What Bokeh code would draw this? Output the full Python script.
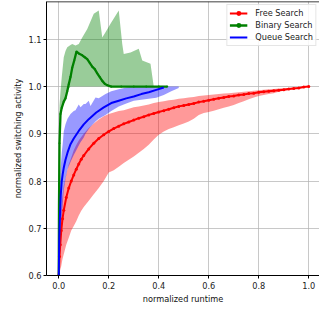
from bokeh.plotting import figure
from bokeh.models import Range1d, FixedTicker, PrintfTickFormatter, Legend, LegendItem, Span
from bokeh.embed import file_html
from bokeh.resources import INLINE

# ---- data ----
x_ticks = [0.0, 0.2, 0.4, 0.6, 0.8, 1.0]
y_ticks = [0.6, 0.7, 0.8, 0.9, 1.0, 1.1]

# Free Search
red_x = [0.0, 0.003, 0.006, 0.01, 0.015, 0.02, 0.03, 0.04, 0.05, 0.06, 0.07, 0.08, 0.09, 0.10,
         0.12, 0.14, 0.16, 0.18, 0.20, 0.22, 0.24, 0.26, 0.28, 0.30, 0.32, 0.34, 0.36, 0.38,
         0.40, 0.42, 0.44, 0.46, 0.48, 0.50, 0.52, 0.54, 0.56, 0.58, 0.60, 0.62, 0.64, 0.66,
         0.68, 0.70, 0.72, 0.74, 0.76, 0.78, 0.80, 0.82, 0.84, 0.86, 0.88, 0.90, 0.92, 0.94,
         0.96, 0.98, 1.00]
red_mean = [0.600, 0.640, 0.665, 0.695, 0.720, 0.738, 0.765, 0.785, 0.800, 0.813, 0.825, 0.836,
            0.846, 0.854, 0.868, 0.880, 0.890, 0.898, 0.905, 0.911, 0.916, 0.921, 0.925, 0.929,
            0.933, 0.936, 0.940, 0.943, 0.946, 0.949, 0.952, 0.955, 0.958, 0.960, 0.962, 0.964,
            0.967, 0.969, 0.971, 0.973, 0.975, 0.977, 0.979, 0.980, 0.982, 0.983, 0.985, 0.986,
            0.988, 0.989, 0.990, 0.991, 0.992, 0.993, 0.995, 0.996, 0.997, 0.999, 1.000]
red_lo = [0.600, 0.605, 0.612, 0.620, 0.635, 0.645, 0.665, 0.680, 0.695, 0.705, 0.715, 0.727,
          0.737, 0.745, 0.758, 0.772, 0.785, 0.800, 0.818, 0.823, 0.830, 0.838, 0.845, 0.852,
          0.860, 0.868, 0.877, 0.888, 0.898, 0.905, 0.910, 0.914, 0.918, 0.922, 0.926, 0.932,
          0.940, 0.944, 0.946, 0.949, 0.952, 0.955, 0.958, 0.961, 0.965, 0.969, 0.973, 0.977,
          0.980, 0.982, 0.984, 0.986, 0.989, 0.991, 0.993, 0.995, 0.997, 0.999, 1.000]
red_hi = [0.600, 0.680, 0.710, 0.740, 0.770, 0.790, 0.815, 0.835, 0.850, 0.865, 0.876, 0.886,
          0.893, 0.900, 0.912, 0.922, 0.930, 0.937, 0.942, 0.945, 0.948, 0.950, 0.953, 0.956,
          0.958, 0.960, 0.962, 0.965, 0.967, 0.969, 0.971, 0.972, 0.974, 0.975, 0.977, 0.978,
          0.980, 0.981, 0.982, 0.983, 0.984, 0.985, 0.986, 0.987, 0.988, 0.989, 0.990, 0.991,
          0.992, 0.993, 0.994, 0.995, 0.996, 0.997, 0.997, 0.998, 0.999, 0.999, 1.000]

# Queue Search
blue_x = [0.0, 0.002, 0.005, 0.008, 0.012, 0.016, 0.02, 0.027, 0.035, 0.047, 0.06, 0.08, 0.10,
          0.12, 0.15, 0.18, 0.21, 0.24, 0.27, 0.30, 0.33, 0.36, 0.39, 0.42]
blue_mean = [0.600, 0.680, 0.730, 0.770, 0.800, 0.815, 0.828, 0.845, 0.860, 0.878, 0.890, 0.906,
             0.920, 0.931, 0.945, 0.956, 0.965, 0.970, 0.975, 0.979, 0.984, 0.988, 0.993, 0.998]
blue_band_x = [0.0, 0.002, 0.005, 0.008, 0.012, 0.016, 0.02, 0.027, 0.035, 0.047, 0.06, 0.067,
               0.08, 0.087, 0.10, 0.107, 0.12, 0.127, 0.147, 0.16, 0.187, 0.21, 0.24, 0.27,
               0.30, 0.33, 0.36, 0.39, 0.42, 0.45, 0.48]
blue_lo = [0.600, 0.620, 0.650, 0.680, 0.720, 0.750, 0.780, 0.805, 0.825, 0.840, 0.855, 0.862,
           0.875, 0.882, 0.892, 0.900, 0.910, 0.915, 0.926, 0.932, 0.940, 0.948, 0.958, 0.964,
           0.970, 0.972, 0.974, 0.976, 0.982, 0.990, 0.997]
blue_hi = [0.600, 0.750, 0.800, 0.830, 0.860, 0.880, 0.905, 0.920, 0.932, 0.942, 0.948, 0.950,
           0.962, 0.956, 0.963, 0.963, 0.970, 0.959, 0.977, 0.975, 0.984, 0.990, 0.994, 0.998,
           1.000, 1.000, 1.000, 1.000, 1.000, 1.000, 1.000]

# Binary Search
green_x = [0.0, 0.001, 0.003, 0.007, 0.012, 0.02, 0.027, 0.034, 0.04, 0.047, 0.054, 0.062,
           0.071, 0.08, 0.094, 0.104, 0.114, 0.124, 0.134, 0.144, 0.154, 0.164, 0.174, 0.184,
           0.193, 0.21, 0.25, 0.30, 0.35, 0.40, 0.434]
green_mean = [0.600, 0.750, 0.880, 0.942, 0.955, 0.968, 0.975, 0.990, 1.005, 1.020, 1.040, 1.055,
              1.074, 1.070, 1.066, 1.062, 1.058, 1.050, 1.042, 1.037, 1.028, 1.020, 1.012, 1.006,
              1.003, 1.000, 1.000, 1.000, 1.000, 1.000, 1.000]
green_band_x = [0.0, 0.001, 0.003, 0.007, 0.012, 0.02, 0.027, 0.034, 0.047, 0.054, 0.067, 0.08,
                0.094, 0.114, 0.14, 0.16, 0.174, 0.187, 0.207, 0.24, 0.254, 0.26, 0.287, 0.32,
                0.334, 0.367, 0.38, 0.434]
green_hi = [0.600, 0.900, 0.960, 0.990, 1.020, 1.062, 1.075, 1.083, 1.088, 1.090, 1.087, 1.090,
            1.104, 1.122, 1.154, 1.161, 1.104, 1.115, 1.133, 1.161, 1.090, 1.069, 1.072, 1.080,
            1.055, 1.048, 1.000, 1.000]
green_lo = [0.600, 0.700, 0.850, 0.930, 0.950, 0.965, 0.975, 0.990, 1.000, 1.000, 1.000, 1.000,
            1.000, 1.000, 1.000, 1.000, 1.000, 1.000, 1.000, 1.000, 1.000, 1.000, 1.000, 1.000,
            1.000, 1.000, 1.000, 1.000]

FONT = "DejaVu Sans"
FS = "8.2px"
Y_TOP = 1.18

p = figure(width=319, height=309, output_backend="svg", toolbar_location=None,
           x_range=Range1d(-0.049, 1.043), y_range=Range1d(0.6, Y_TOP),
           min_border_left=46, min_border_right=0, min_border_top=1, min_border_bottom=34)

p.background_fill_color = "white"
p.border_fill_color = "white"
p.outline_line_color = None

# bands
p.varea(x=red_x, y1=red_lo, y2=red_hi, fill_color="red", fill_alpha=0.4)
p.varea(x=green_band_x, y1=green_lo, y2=green_hi, fill_color="green", fill_alpha=0.4)
p.varea(x=blue_band_x, y1=blue_lo, y2=blue_hi, fill_color="blue", fill_alpha=0.4)

# lines
r_line = p.line(red_x, red_mean, line_color="red", line_width=2)
r_dots = p.scatter(red_x, red_mean, size=3, fill_color="red", line_width=0)
g_line = p.line(green_x, green_mean, line_color="green", line_width=2.3)
g_dots = p.scatter(green_x, green_mean, size=2, fill_color="green", line_width=0)
b_line = p.line(blue_x, blue_mean, line_color="blue", line_width=2)

# top spine
p.add_layout(Span(location=Y_TOP, dimension="width", line_color="black", line_width=1.5))

legend = Legend(items=[
    LegendItem(label="Free Search", renderers=[r_line, r_dots]),
    LegendItem(label="Binary Search", renderers=[g_line, g_dots]),
    LegendItem(label="Queue Search", renderers=[b_line]),
], location="top_right")
legend.label_text_font = FONT
legend.label_text_font_size = FS
legend.label_text_color = "#222222"
legend.glyph_width = 18
legend.glyph_height = 12
legend.label_height = 12
legend.label_standoff = 8
legend.spacing = 0
legend.padding = 2
legend.margin = 3
legend.border_line_color = "#cccccc"
legend.border_line_width = 1
legend.background_fill_alpha = 0.85
p.add_layout(legend)

for ax in (p.xaxis[0], p.yaxis[0]):
    ax.major_label_text_font = FONT
    ax.major_label_text_font_size = FS
    ax.major_label_text_color = "#222222"
    ax.axis_label_text_font = FONT
    ax.axis_label_text_font_size = FS
    ax.axis_label_text_font_style = "normal"
    ax.axis_label_text_color = "#111111"
    ax.major_tick_out = 3
    ax.major_tick_in = 0
    ax.minor_tick_out = 0
    ax.minor_tick_in = 0
    ax.axis_line_color = "black"
    ax.major_tick_line_color = "black"
    ax.formatter = PrintfTickFormatter(format="%.1f")

p.xaxis.major_label_standoff = 3
p.xaxis.axis_label_standoff = 2
p.yaxis.major_label_standoff = 2
p.yaxis.axis_label_standoff = 2

p.xaxis.ticker = FixedTicker(ticks=x_ticks)
p.yaxis.ticker = FixedTicker(ticks=y_ticks)
p.xaxis.axis_label = "normalized runtime"
p.yaxis.axis_label = "normalized switching activity"

p.grid.grid_line_color = "#b0b0b0"
p.grid.grid_line_alpha = 0.7
p.grid.grid_line_width = 1

open("out.html", "w").write(file_html(p, INLINE))
